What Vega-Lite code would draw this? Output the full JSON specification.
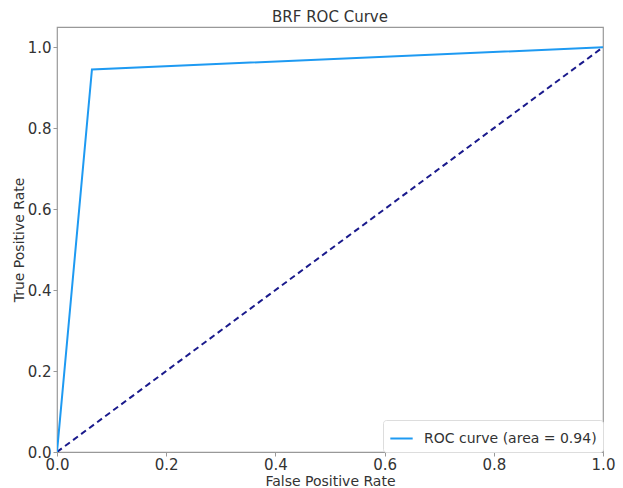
{
  "$schema": "https://vega.github.io/schema/vega-lite/v6.json",
  "autosize": "none",
  "width": 546,
  "height": 425,
  "padding": {"left": 57, "top": 27, "right": 20, "bottom": 36},
  "background": "white",
  "title": {"text": "BRF ROC Curve", "font": "DejaVu Sans", "fontSize": 15, "fontWeight": "normal", "color": "#333", "offset": 2},
  "config": {
    "view": {"stroke": "#999", "strokeWidth": 1.2},
    "axis": {"labelFont": "DejaVu Sans", "titleFont": "DejaVu Sans", "labelFontSize": 15, "titleFontSize": 14, "titleFontWeight": "normal", "labelColor": "#333", "titleColor": "#333", "grid": false, "domain": false, "tickColor": "#999", "tickSize": 4, "labelFlush": false}
  },
  "datasets": {
    "roc": [
      {"fpr": 0.0, "tpr": 0.0, "series": "ROC curve (area = 0.94)"},
      {"fpr": 0.064, "tpr": 0.945, "series": "ROC curve (area = 0.94)"},
      {"fpr": 1.0, "tpr": 1.0, "series": "ROC curve (area = 0.94)"}
    ],
    "diag": [
      {"fpr": 0.0, "tpr": 0.0},
      {"fpr": 1.0, "tpr": 1.0}
    ]
  },
  "layer": [
    {
      "data": {"name": "diag"},
      "mark": {"type": "line", "color": "#1a1a8c", "strokeDash": [6, 4], "strokeWidth": 2, "clip": true},
      "encoding": {
        "x": {"field": "fpr", "type": "quantitative"},
        "y": {"field": "tpr", "type": "quantitative"}
      }
    },
    {
      "data": {"name": "roc"},
      "mark": {"type": "line", "strokeWidth": 2, "clip": true},
      "encoding": {
        "x": {"field": "fpr", "type": "quantitative", "scale": {"domain": [0, 1], "nice": false, "zero": false}, "title": "False Positive Rate", "axis": {"values": [0, 0.2, 0.4, 0.6, 0.8, 1.0], "format": ".1f", "titlePadding": 2, "labelPadding": 1}},
        "y": {"field": "tpr", "type": "quantitative", "scale": {"domain": [0, 1.05], "nice": false, "zero": false}, "title": "True Positive Rate", "axis": {"values": [0, 0.2, 0.4, 0.6, 0.8, 1.0], "format": ".1f", "titlePadding": 1, "labelPadding": 2}},
        "color": {"field": "series", "type": "nominal", "scale": {"range": ["#1e9af2"]}, "legend": {"title": null, "orient": "none", "legendX": 326, "legendY": 393, "direction": "vertical", "symbolType": "stroke", "symbolSize": 500, "symbolStrokeWidth": 2, "labelFont": "DejaVu Sans", "labelFontSize": 14, "labelColor": "#333", "labelLimit": 400, "padding": 6, "strokeColor": "#ddd", "fillColor": "white", "cornerRadius": 3, "labelOffset": 10}}
      }
    }
  ]
}
